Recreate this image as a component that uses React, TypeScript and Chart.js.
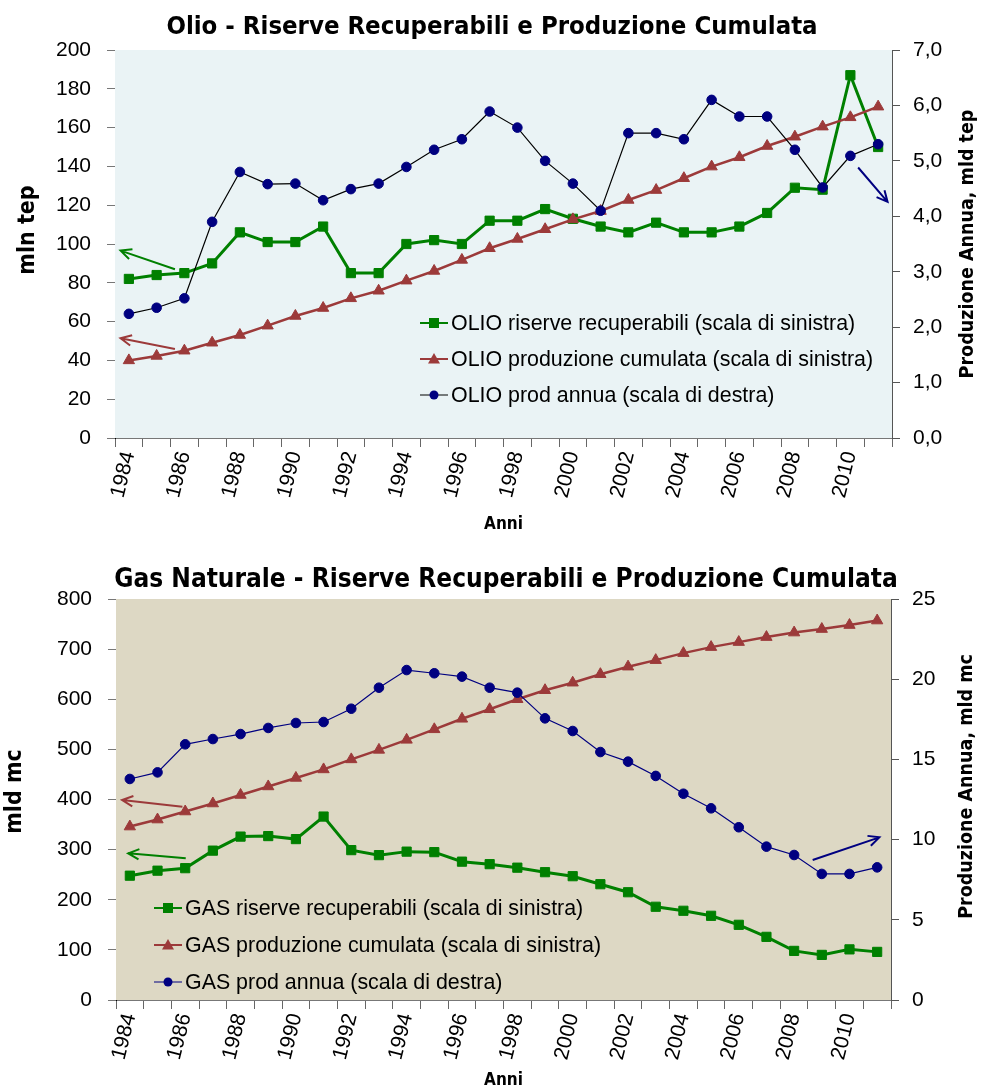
import React, { useEffect, useRef } from "react";
import { Chart, registerables } from "chart.js";
Chart.register(...registerables);

const years = [
  "1984", "1985", "1986", "1987", "1988", "1989", "1990", "1991", "1992", "1993",
  "1994", "1995", "1996", "1997", "1998", "1999", "2000", "2001", "2002", "2003",
  "2004", "2005", "2006", "2007", "2008", "2009", "2010", "2011",
];

const oilReserves = [82, 84, 85, 90, 106, 101, 101, 109, 85, 85, 100, 102, 100, 112, 112, 118, 113, 109, 106, 111, 106, 106, 109, 116, 129, 128, 187, 150];
const oilCumulative = [40, 42.3, 45, 49.1, 53.1, 57.9, 62.9, 67, 72, 75.9, 81.1, 86.1, 91.8, 97.8, 102.6, 107.6, 112.7, 117, 122.7, 127.8, 133.9, 139.9, 144.7, 150.5, 155.3, 160.5, 165.3, 170.8];
const oilAnnual = [2.24, 2.35, 2.52, 3.9, 4.8, 4.58, 4.59, 4.29, 4.49, 4.59, 4.89, 5.2, 5.39, 5.89, 5.6, 5.0, 4.59, 4.1, 5.5, 5.5, 5.39, 6.1, 5.8, 5.8, 5.2, 4.52, 5.09, 5.3];

const gasReserves = [248, 258, 263, 298, 326, 327, 321, 366, 299, 289, 296, 295, 276, 271, 264, 255, 247, 231, 215, 186, 178, 168, 150, 126, 98, 90, 101, 96];
const gasCumulative = [346, 360, 376, 392, 409, 426, 443, 460, 480, 499, 519, 540, 561, 580, 600, 618, 633, 650, 665, 678, 692, 704, 714, 724, 733, 740, 748, 757];
const gasAnnual = [13.78, 14.19, 15.94, 16.27, 16.58, 16.96, 17.27, 17.33, 18.16, 19.47, 20.57, 20.37, 20.16, 19.47, 19.16, 17.56, 16.77, 15.46, 14.86, 13.97, 12.86, 11.95, 10.77, 9.56, 9.04, 7.86, 7.86, 8.27];

const oilLabels = [
  "OLIO riserve recuperabili (scala di sinistra)",
  "OLIO produzione cumulata (scala di sinistra)",
  "OLIO prod annua (scala di destra)",
];
const gasLabels = [
  "GAS riserve recuperabili (scala di sinistra)",
  "GAS produzione cumulata (scala di sinistra)",
  "GAS prod annua (scala di destra)",
];

const GREEN = "#008000";
const RED = "#9c3a3a";
const NAVY = "#000080";

type ArrowDef = { x0: number; y0: number; x1: number; y1: number; axis: string; color: string };

// arrows given in data units (category index, axis value)
const oilArrows: ArrowDef[] = [
  { x0: 1.66, y0: 87, x1: -0.3, y1: 96.6, axis: "y", color: GREEN },
  { x0: 1.66, y0: 45.9, x1: -0.3, y1: 51.4, axis: "y", color: RED },
  { x0: 26.28, y0: 4.88, x1: 27.34, y1: 4.26, axis: "y1", color: NAVY },
];
const gasArrows: ArrowDef[] = [
  { x0: 1.9, y0: 385.6, x1: -0.28, y1: 399, axis: "y", color: RED },
  { x0: 2.02, y0: 282.6, x1: -0.06, y1: 292.6, axis: "y", color: GREEN },
  { x0: 24.67, y0: 8.73, x1: 27.08, y1: 10.14, axis: "y1", color: NAVY },
];

const SANS = '"Liberation Sans", Arial, Helvetica, sans-serif';
const NARROW = '"Liberation Sans Narrow", "Arial Narrow", "DejaVu Sans Condensed", sans-serif';

type Cfg = {
  width: number;
  height: number;
  title: string;
  titleSize: number;
  titleX: number;
  titleY: number;
  topPad: number;
  bg: string;
  reserves: number[];
  cumulative: number[];
  annual: number[];
  annualLine: string;
  labels: string[];
  leftMax: number;
  leftStep: number;
  rightMax: number;
  rightStep: number;
  rightDecimals: number;
  leftTitle: string;
  leftTitleX: number;
  leftTitleDy: number;
  rightTitle: string;
  rightTitleX: number;
  rightTitleDy: number;
  leftWidth: number;
  rightWidth: number;
  xHeight: number;
  xTitlePadBottom: number;
  legendX: number;
  legendY: number;
  legendGap: number;
  arrows: ArrowDef[];
};

function drawMarker(ctx: CanvasRenderingContext2D, style: string, x: number, y: number, color: string) {
  ctx.save();
  ctx.fillStyle = color;
  ctx.beginPath();
  if (style === "rect") {
    ctx.rect(x - 5, y - 5, 10, 10);
  } else if (style === "triangle") {
    ctx.moveTo(x, y - 6);
    ctx.lineTo(x + 6, y + 4.5);
    ctx.lineTo(x - 6, y + 4.5);
    ctx.closePath();
  } else {
    ctx.arc(x, y, 4.5, 0, Math.PI * 2);
  }
  ctx.fill();
  ctx.restore();
}

function makeConfig(c: Cfg): any {
  const bgPlugin = {
    id: "bg",
    beforeDatasetsDraw(chart: any) {
      const { ctx, chartArea: a } = chart;
      ctx.save();
      ctx.fillStyle = c.bg;
      ctx.fillRect(a.left, a.top, a.right - a.left, a.bottom - a.top);
      ctx.restore();
    },
  };
  const overlayPlugin = {
    id: "overlay",
    afterDraw(chart: any) {
      const { ctx, chartArea: a, scales } = chart;
      // chart title
      ctx.save();
      ctx.font = `bold ${c.titleSize}px ${NARROW}`;
      ctx.fillStyle = "#000";
      ctx.textAlign = "center";
      ctx.textBaseline = "middle";
      ctx.fillText(c.title, c.titleX, c.titleY);
      ctx.restore();
      // arrows
      for (const ar of c.arrows) {
        const ys = scales[ar.axis];
        const px0 = scales.x.getPixelForValue(ar.x0);
        const py0 = ys.getPixelForValue(ar.y0);
        const px1 = scales.x.getPixelForValue(ar.x1);
        const py1 = ys.getPixelForValue(ar.y1);
        const ang = Math.atan2(py1 - py0, px1 - px0);
        ctx.save();
        ctx.strokeStyle = ar.color;
        ctx.lineWidth = 2;
        ctx.beginPath();
        ctx.moveTo(px0, py0);
        ctx.lineTo(px1, py1);
        const h = 12;
        ctx.moveTo(px1 - h * Math.cos(ang - 0.45), py1 - h * Math.sin(ang - 0.45));
        ctx.lineTo(px1, py1);
        ctx.lineTo(px1 - h * Math.cos(ang + 0.45), py1 - h * Math.sin(ang + 0.45));
        ctx.stroke();
        ctx.restore();
      }
      // legend
      const ds = chart.data.datasets;
      ctx.save();
      ctx.font = `21.4px ${SANS}`;
      ctx.textBaseline = "middle";
      ctx.textAlign = "left";
      ds.forEach((d: any, i: number) => {
        const y = a.top + c.legendY + i * c.legendGap;
        const x0 = a.left + c.legendX;
        ctx.strokeStyle = d.borderColor;
        ctx.lineWidth = i === 2 ? 1 : 2;
        ctx.beginPath();
        ctx.moveTo(x0, y);
        ctx.lineTo(x0 + 28, y);
        ctx.stroke();
        drawMarker(ctx, d.pointStyle, x0 + 14, y, d.pointBackgroundColor);
        ctx.fillStyle = "#000";
        ctx.fillText(d.label, x0 + 31, y + 1);
      });
      ctx.restore();
      // axis titles (both read bottom to top)
      const cy = (a.top + a.bottom) / 2;
      ctx.save();
      ctx.font = `bold 23px ${NARROW}`;
      ctx.fillStyle = "#000";
      ctx.textAlign = "center";
      ctx.textBaseline = "middle";
      ctx.translate(c.leftTitleX, cy + c.leftTitleDy);
      ctx.rotate(-Math.PI / 2);
      ctx.fillText(c.leftTitle, 0, 0);
      ctx.restore();
      ctx.save();
      ctx.font = `bold 19.5px ${NARROW}`;
      ctx.fillStyle = "#000";
      ctx.textAlign = "center";
      ctx.textBaseline = "middle";
      ctx.translate(c.rightTitleX, cy + c.rightTitleDy);
      ctx.rotate(-Math.PI / 2);
      ctx.fillText(c.rightTitle, 0, 0);
      ctx.restore();
    },
  };

  const tickFont = { family: SANS, size: 21 };
  return {
    type: "line",
    data: {
      labels: years,
      datasets: [
        {
          label: c.labels[0],
          data: c.reserves,
          yAxisID: "y",
          borderColor: GREEN,
          backgroundColor: GREEN,
          pointBackgroundColor: GREEN,
          pointBorderColor: GREEN,
          borderWidth: 3,
          pointStyle: "rect",
          pointRadius: 6.5,
          pointBorderWidth: 1,
          order: 3,
        },
        {
          label: c.labels[1],
          data: c.cumulative,
          yAxisID: "y",
          borderColor: RED,
          backgroundColor: RED,
          pointBackgroundColor: RED,
          pointBorderColor: RED,
          borderWidth: 2.5,
          pointStyle: "triangle",
          pointRadius: 6.5,
          pointBorderWidth: 1,
          order: 2,
        },
        {
          label: c.labels[2],
          data: c.annual,
          yAxisID: "y1",
          borderColor: c.annualLine,
          backgroundColor: NAVY,
          pointBackgroundColor: NAVY,
          pointBorderColor: NAVY,
          borderWidth: 1.2,
          pointStyle: "circle",
          pointRadius: 4.8,
          pointBorderWidth: 1,
          order: 1,
        },
      ],
    },
    options: {
      responsive: false,
      animation: false,
      maintainAspectRatio: false,
      layout: { padding: { top: c.topPad, left: 0, right: 0, bottom: 0 } },
      plugins: {
        legend: { display: false },
        tooltip: { enabled: false },
        title: { display: false },
      },
      scales: {
        x: {
          type: "category",
          offset: true,
          grid: { offset: true, drawOnChartArea: false, tickLength: 9, color: "#666" },
          border: { display: true, color: "#777" },
          ticks: {
            autoSkip: false,
            minRotation: 76,
            maxRotation: 76,
            padding: 2,
            color: "#000",
            font: { family: SANS, size: 21 },
            callback: (_v: any, i: number) => (i % 2 === 0 ? years[i] : ""),
          },
          title: {
            display: true,
            text: "Anni",
            color: "#000",
            font: { family: NARROW, size: 17, weight: "bold", lineHeight: 1.2 },
            padding: { top: 0, bottom: c.xTitlePadBottom },
          },
          afterFit: (s: any) => {
            s.height = c.xHeight;
          },
        },
        y: {
          position: "left",
          min: 0,
          max: c.leftMax,
          grid: { drawOnChartArea: false, tickLength: 8, color: "#777" },
          border: { display: true, color: "#000" },
          ticks: { stepSize: c.leftStep, padding: 16, color: "#000", font: tickFont },
          afterFit: (s: any) => {
            s.width = c.leftWidth;
          },
        },
        y1: {
          position: "right",
          min: 0,
          max: c.rightMax,
          grid: { drawOnChartArea: false, tickLength: 8, color: "#555" },
          border: { display: true, color: "#555" },
          ticks: {
            stepSize: c.rightStep,
            padding: 13,
            color: "#000",
            font: tickFont,
            callback: (v: any) => Number(v).toFixed(c.rightDecimals).replace(".", ","),
          },
          afterFit: (s: any) => {
            s.width = c.rightWidth;
          },
        },
      },
    },
    plugins: [bgPlugin, overlayPlugin],
  };
}

const oilCfg: Cfg = {
  width: 985,
  height: 545,
  title: "Olio - Riserve Recuperabili e Produzione Cumulata",
  titleSize: 25.5,
  titleX: 492,
  titleY: 27,
  topPad: 50,
  bg: "#eaf3f5",
  reserves: oilReserves,
  cumulative: oilCumulative,
  annual: oilAnnual,
  annualLine: "#000000",
  labels: oilLabels,
  leftMax: 200,
  leftStep: 20,
  rightMax: 7,
  rightStep: 1,
  rightDecimals: 1,
  leftTitle: "mln tep",
  leftTitleX: 28,
  leftTitleDy: -14,
  rightTitle: "Produzione Annua, mld tep",
  rightTitleX: 968,
  rightTitleDy: 0,
  leftWidth: 115,
  rightWidth: 93,
  xHeight: 107,
  xTitlePadBottom: 10,
  legendX: 305,
  legendY: 273,
  legendGap: 36,
  arrows: oilArrows,
};

const gasCfg: Cfg = {
  width: 985,
  height: 543,
  title: "Gas Naturale - Riserve Recuperabili e Produzione Cumulata",
  titleSize: 26,
  titleX: 506,
  titleY: 35,
  topPad: 54,
  bg: "#ddd8c4",
  reserves: gasReserves,
  cumulative: gasCumulative,
  annual: gasAnnual,
  annualLine: NAVY,
  labels: gasLabels,
  leftMax: 800,
  leftStep: 100,
  rightMax: 25,
  rightStep: 5,
  rightDecimals: 0,
  leftTitle: "mld mc",
  leftTitleX: 15,
  leftTitleDy: -8,
  rightTitle: "Produzione Annua, mld mc",
  rightTitleX: 967,
  rightTitleDy: -13,
  leftWidth: 116,
  rightWidth: 94,
  xHeight: 88,
  xTitlePadBottom: -3,
  legendX: 38,
  legendY: 309,
  legendGap: 37,
  arrows: gasArrows,
};

function ChartBox({ cfg, top }: { cfg: Cfg; top: number }) {
  const ref = useRef<HTMLCanvasElement>(null);
  useEffect(() => {
    const chart = new Chart(ref.current as HTMLCanvasElement, makeConfig(cfg));
    return () => chart.destroy();
  }, [cfg]);
  return (
    <div style={{ position: "absolute", left: 0, top, width: cfg.width, height: cfg.height }}>
      <canvas ref={ref} width={cfg.width} height={cfg.height} style={{ display: "block" }} />
    </div>
  );
}

export default function App() {
  return (
    <div style={{ position: "absolute", left: 0, top: 0, width: 985, height: 1088, background: "#fff" }}>
      <ChartBox cfg={oilCfg} top={0} />
      <ChartBox cfg={gasCfg} top={545} />
    </div>
  );
}
